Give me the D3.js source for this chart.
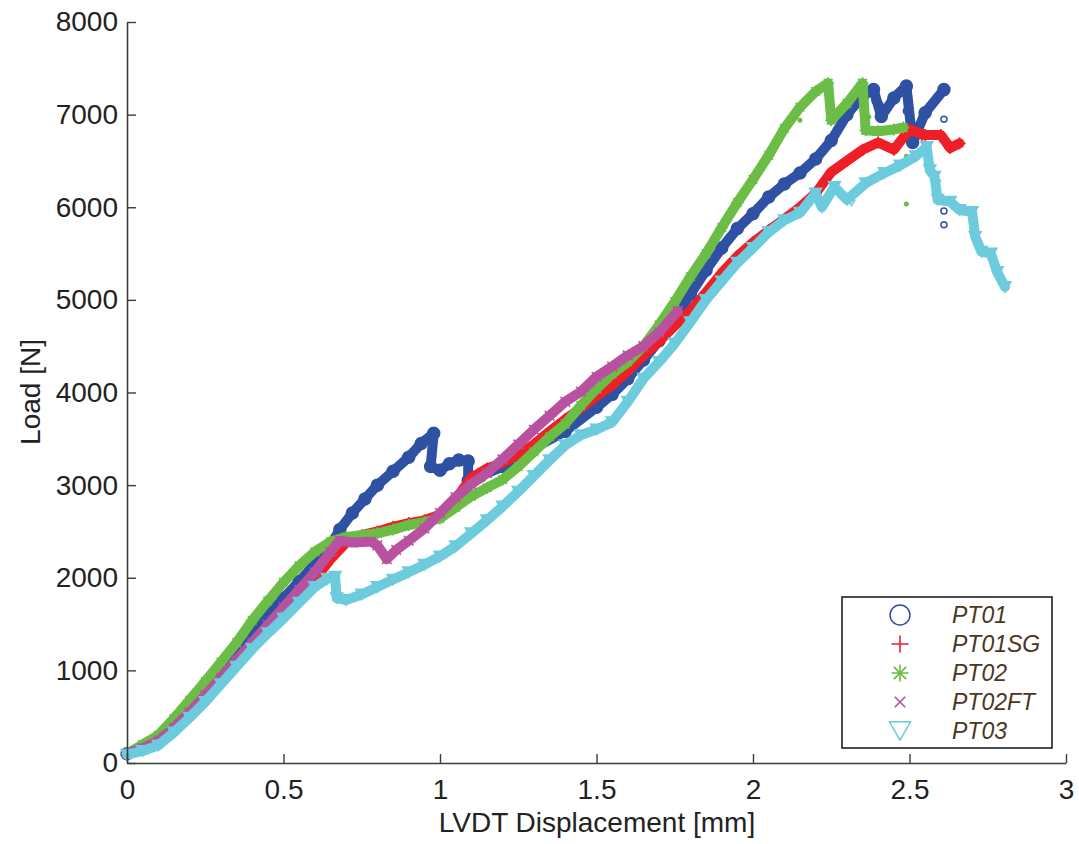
<!DOCTYPE html>
<html>
<head>
<meta charset="utf-8">
<script src="https://cdn.jsdelivr.net/npm/d3@7"></script>
<style>
  body { margin: 0; background: #fff; }
  svg text { font-family: "Liberation Sans", Arial, Helvetica, sans-serif; }
</style>
</head>
<body>
<svg id="chart" width="1079" height="844"></svg>
<script>
// Load vs LVDT displacement, five specimens
// Each series is an array of [displacement mm, load N].

var NAMES = ["PT01", "PT01SG", "PT02", "PT02FT", "PT03"];
var COLORS = ["#2f51a3", "#ee1f26", "#6bbd45", "#b8519f", "#6ccbdc"];

var PT01 = [[0,100],[0.05,170],[0.1,260],[0.15,420],[0.2,600],[0.25,790],[0.3,990],[0.35,1200],[0.4,1400],
  [0.45,1590],[0.5,1780],[0.55,1960],[0.6,2150],[0.65,2350],[0.68,2520],[0.72,2700],[0.76,2850],[0.8,3000],
  [0.85,3150],[0.9,3300],[0.94,3450],[0.98,3560],[0.97,3200],[1.0,3160],[1.03,3230],[1.06,3270],[1.09,3260],
  [1.09,3050],[1.13,3100],[1.2,3200],[1.3,3400],[1.4,3580],[1.5,3840],[1.55,3980],[1.6,4150],[1.65,4350],
  [1.7,4560],[1.75,4800],[1.8,5060],[1.85,5320],[1.9,5560],[1.95,5770],[2.0,5930],[2.05,6110],[2.1,6250],
  [2.15,6370],[2.2,6520],[2.25,6720],[2.3,7000],[2.35,7200],[2.385,7270],[2.41,6980],[2.45,7180],[2.49,7310],
  [2.51,6700],[2.55,7020],[2.61,7270]];
var PT01SG = [[0,100],[0.05,150],[0.1,220],[0.15,350],[0.2,500],[0.25,680],[0.3,870],[0.35,1060],[0.4,1250],
  [0.45,1430],[0.5,1600],[0.55,1780],[0.6,1980],[0.65,2200],[0.7,2380],[0.75,2460],[0.8,2500],[0.85,2550],
  [0.9,2590],[0.95,2620],[1.0,2680],[1.05,2850],[1.1,3080],[1.15,3180],[1.2,3240],[1.25,3330],[1.3,3440],
  [1.35,3580],[1.4,3710],[1.45,3830],[1.5,3960],[1.55,4080],[1.6,4230],[1.65,4400],[1.7,4550],[1.75,4720],
  [1.8,4880],[1.85,5080],[1.9,5290],[1.95,5470],[2.0,5620],[2.05,5750],[2.1,5870],[2.15,6000],[2.2,6150],
  [2.25,6380],[2.3,6500],[2.35,6620],[2.4,6700],[2.45,6620],[2.5,6840],[2.55,6780],[2.6,6780],[2.63,6640],[2.66,6690]];
var PT02 = [[0,100],[0.05,200],[0.1,300],[0.15,480],[0.2,680],[0.25,880],[0.3,1090],[0.35,1300],[0.4,1540],
  [0.45,1750],[0.5,1950],[0.55,2130],[0.6,2280],[0.65,2390],[0.7,2440],[0.75,2460],[0.8,2480],[0.85,2520],
  [0.9,2570],[0.95,2600],[1.0,2640],[1.05,2760],[1.1,2880],[1.15,2970],[1.2,3060],[1.25,3200],[1.3,3360],
  [1.35,3520],[1.4,3660],[1.45,3860],[1.5,4040],[1.55,4200],[1.6,4330],[1.65,4500],[1.7,4730],[1.75,4980],
  [1.8,5250],[1.85,5500],[1.9,5780],[1.95,6050],[2.0,6300],[2.05,6560],[2.1,6850],[2.15,7080],[2.2,7250],
  [2.24,7340],[2.25,6940],[2.3,7120],[2.35,7340],[2.36,6830],[2.4,6820],[2.45,6840],[2.48,6860]];
var PT02FT = [[0,100],[0.05,160],[0.1,240],[0.15,380],[0.2,550],[0.25,730],[0.3,920],[0.35,1110],[0.4,1300],
  [0.45,1490],[0.5,1680],[0.55,1870],[0.6,2060],[0.65,2280],[0.68,2400],[0.72,2380],[0.78,2390],[0.8,2350],
  [0.83,2200],[0.86,2300],[0.9,2400],[0.95,2530],[1.0,2700],[1.05,2870],[1.1,3010],[1.15,3130],[1.2,3280],
  [1.25,3440],[1.3,3600],[1.35,3750],[1.4,3900],[1.45,4010],[1.5,4170],[1.55,4280],[1.6,4400],[1.65,4500],
  [1.7,4650],[1.76,4880]];
var PT03 = [[0,90],[0.05,130],[0.1,190],[0.15,330],[0.2,490],[0.25,660],[0.3,850],[0.35,1040],[0.4,1230],
  [0.45,1400],[0.5,1560],[0.55,1730],[0.6,1900],[0.64,1990],[0.665,2010],[0.67,1780],[0.7,1760],[0.75,1820],
  [0.8,1900],[0.85,1980],[0.9,2060],[0.95,2140],[1.0,2230],[1.05,2340],[1.1,2480],[1.15,2620],[1.2,2770],
  [1.25,2930],[1.3,3100],[1.35,3270],[1.4,3430],[1.45,3540],[1.5,3600],[1.55,3680],[1.6,3900],[1.65,4150],
  [1.7,4330],[1.75,4530],[1.8,4760],[1.85,5000],[1.9,5200],[1.95,5400],[2.0,5560],[2.05,5730],[2.1,5860],
  [2.15,5940],[2.2,6150],[2.22,6000],[2.26,6220],[2.3,6080],[2.36,6260],[2.42,6370],[2.47,6450],[2.52,6550],
  [2.555,6650],[2.565,6400],[2.58,6330],[2.59,6080],[2.63,6060],[2.66,5970],[2.7,5950],[2.71,5680],[2.73,5520],
  [2.76,5500],[2.78,5300],[2.805,5140]];

// stray single readings away from the main bands
var PT01_STRAY = [[0.976,3300],[2.39,7150],[2.405,7110],[2.415,7070],[2.49,7040],[2.61,6950],[2.61,5960],[2.61,5810]];
var PT01SG_STRAY = [[2.54,6740]];
var PT02_STRAY = [[2.15,6940],[2.246,7190],[2.37,6975],[2.49,6550],[2.49,6480],[2.49,6035]];
var PT03_STRAY = [[2.315,6045],[2.59,6260]];

var XTICKS = [0, 0.5, 1, 1.5, 2, 2.5, 3];
var YTICKS = [0, 1000, 2000, 3000, 4000, 5000, 6000, 7000, 8000];

var SERIES = [PT01, PT01SG, PT02, PT02FT, PT03];
var STRAYS = [PT01_STRAY, PT01SG_STRAY, PT02_STRAY, [], PT03_STRAY];

var svg = d3.select("#chart");
var x = d3.scaleLinear().domain([0, 3]).range([127, 1066]);
var y = d3.scaleLinear().domain([0, 8000]).range([763, 22]);

// marker shapes, matlab style: o + * x v
function marker(g, kind, size, color, filled) {
  var s = size / 2;
  if (kind == 0) {
    g.append("circle").attr("r", s)
      .style("fill", filled ? color : "none").style("stroke", color).style("stroke-width", 1.5);
  } else if (kind == 4) {
    var h = s * 0.87;
    g.append("path").attr("d", "M" + (-s) + "," + (-h) + "L" + s + "," + (-h) + "L0," + h + "Z")
      .style("fill", filled ? color : "none").style("stroke", color).style("stroke-width", 1.5);
  } else {
    var d = "";
    if (kind == 1 || kind == 2) d += "M" + (-s) + ",0H" + s + "M0," + (-s) + "V" + s;
    if (kind == 2 || kind == 3) {
      var k = kind == 2 ? s * 0.72 : s * 0.8;
      d += "M" + (-k) + "," + (-k) + "L" + k + "," + k + "M" + (-k) + "," + k + "L" + k + "," + (-k);
    }
    g.append("path").attr("d", d).style("fill", "none").style("stroke", color).style("stroke-width", 1.6);
  }
}

// data bands
var line = d3.line().x(d => x(d[0])).y(d => y(d[1]));
for (var i = 0; i < SERIES.length; i++) {
  var g = svg.append("g").attr("class", "series");
  g.append("path").datum(SERIES[i]).attr("d", line)
    .style("fill", "none").style("stroke", COLORS[i])
    .style("stroke-width", 10).style("stroke-linejoin", "round").style("stroke-linecap", "round");
  g.selectAll("g.pt").data(SERIES[i]).enter().append("g").attr("class", "pt")
    .attr("transform", d => "translate(" + x(d[0]) + "," + y(d[1]) + ")")
    .each(function () { marker(d3.select(this), i, 12, COLORS[i], true); });
  g.selectAll("g.stray").data(STRAYS[i]).enter().append("g").attr("class", "stray")
    .attr("transform", d => "translate(" + x(d[0]) + "," + y(d[1]) + ")")
    .each(function () { marker(d3.select(this), i, i == 2 ? 5 : 6, COLORS[i], i == 2); });
}

// axes, matlab ticks point inward
var xa = svg.append("g").attr("transform", "translate(0," + y(0) + ")")
  .call(d3.axisBottom(x).tickValues(XTICKS).tickSizeInner(-9).tickSizeOuter(0).tickPadding(16).tickFormat(d3.format("")));
var ya = svg.append("g").attr("transform", "translate(" + x(0) + ",0)")
  .call(d3.axisLeft(y).tickValues(YTICKS).tickSizeInner(-9).tickSizeOuter(0).tickPadding(9).tickFormat(d3.format("")));
[xa, ya].forEach(function (a) {
  a.select(".domain").style("stroke", "#3c3c3c").style("stroke-width", 1.6);
  a.selectAll(".tick line").style("stroke", "#3c3c3c").style("stroke-width", 1.4);
  a.selectAll(".tick text").style("font-size", "28px").style("fill", "#222")
    .style("font-family", "'Liberation Sans', Arial, sans-serif");
});

svg.append("text").attr("x", 597).attr("y", 832).attr("text-anchor", "middle")
  .style("font-size", "28px").style("fill", "#222").text("LVDT Displacement [mm]");
svg.append("text").attr("transform", "translate(40,392) rotate(-90)").attr("text-anchor", "middle")
  .style("font-size", "28px").style("fill", "#222").text("Load [N]");

// legend
var lg = svg.append("g");
lg.append("rect").attr("x", 842).attr("y", 597).attr("width", 210).attr("height", 151)
  .style("fill", "#fff").style("stroke", "#111").style("stroke-width", 1.5);
var LEG_Y = [615, 644, 673, 702, 731];
var LEG_SIZE = [20, 17, 17, 13, 21];
for (var j = 0; j < NAMES.length; j++) {
  var m = lg.append("g").attr("transform", "translate(900," + LEG_Y[j] + ")");
  marker(m, j, LEG_SIZE[j], COLORS[j], false);
  lg.append("text").attr("x", 952).attr("y", LEG_Y[j] + 8)
    .style("font-size", "23px").style("font-style", "italic").style("fill", "#4b3621")
    .text(NAMES[j]);
}
</script>
</body>
</html>
